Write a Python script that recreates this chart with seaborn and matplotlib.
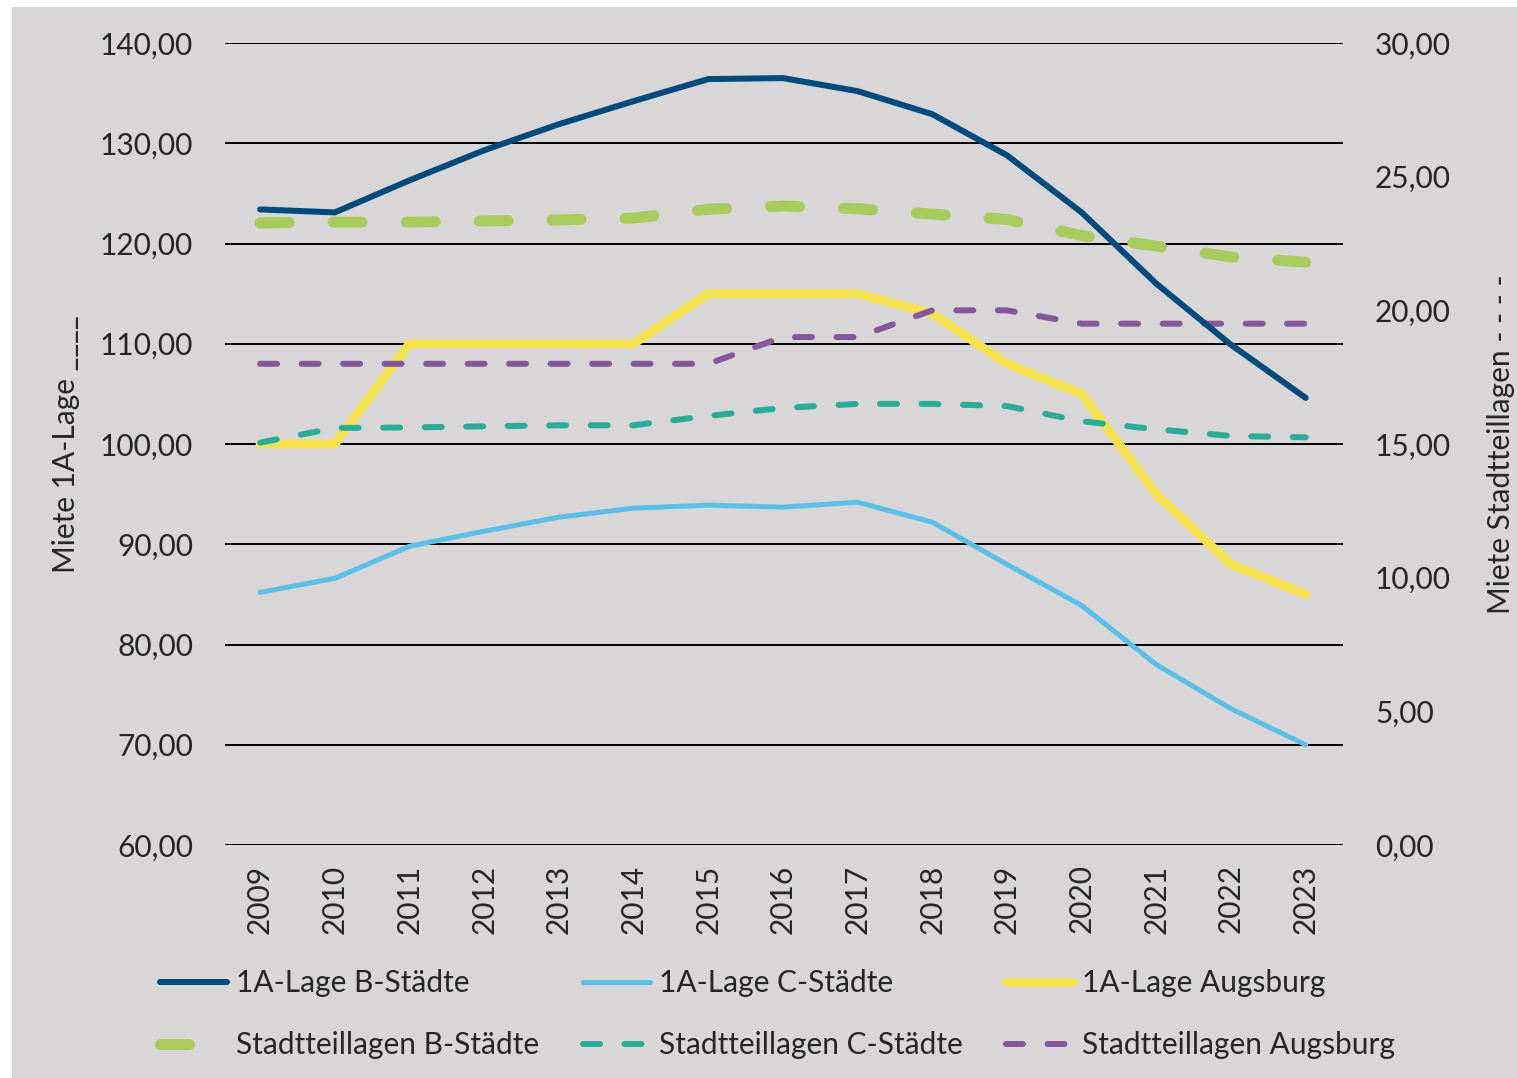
import matplotlib
matplotlib.use("Agg")
import matplotlib.pyplot as plt
import seaborn as sns
import pandas as pd
from matplotlib.patches import Rectangle
from matplotlib.ticker import FuncFormatter

years = list(range(2009, 2024))

lage_b = [123.4, 123.1, 126.3, 129.3, 131.9, 134.2, 136.4, 136.5, 135.2, 132.9, 128.8, 123.1, 116.0, 109.9, 104.6]
lage_c = [85.2, 86.6, 89.8, 91.3, 92.7, 93.6, 93.9, 93.7, 94.2, 92.2, 88.0, 83.9, 78.0, 73.6, 70.0]
lage_a = [100.0, 100.0, 110.0, 110.0, 110.0, 110.0, 115.0, 115.0, 115.0, 113.0, 108.0, 105.0, 95.0, 88.0, 85.0]

st_b = [23.27, 23.3, 23.3, 23.34, 23.38, 23.45, 23.78, 23.9, 23.8, 23.6, 23.4, 22.8, 22.4, 22.0, 21.8]
st_c = [15.05, 15.6, 15.62, 15.66, 15.7, 15.7, 16.05, 16.35, 16.5, 16.5, 16.42, 15.85, 15.55, 15.3, 15.25]
st_a = [18.0, 18.0, 18.0, 18.0, 18.0, 18.0, 18.0, 19.0, 19.0, 20.0, 20.0, 19.5, 19.5, 19.5, 19.5]

labels = ["1A-Lage B-Städte", "1A-Lage C-Städte", "1A-Lage Augsburg",
          "Stadtteillagen B-Städte", "Stadtteillagen C-Städte", "Stadtteillagen Augsburg"]
colors = ["#004a7c", "#5bbfe7", "#f5e24e", "#a9cb5d", "#2aac97", "#85579b"]

left_ticks = [60, 70, 80, 90, 100, 110, 120, 130, 140]
right_ticks = [0, 5, 10, 15, 20, 25, 30]

sns.set_style("white")
plt.rcParams['font.family'] = ['Lato', 'DejaVu Sans']
plt.rcParams['lines.scale_dashes'] = False

W, H = 1517, 1078
fig = plt.figure(figsize=(W / 100, H / 100), dpi=100, facecolor="white")
bg = "#d8d6d7"
fig.patches.append(Rectangle((12 / W, 0), 1 - 12 / W, 1 - 7 / H, transform=fig.transFigure,
                             facecolor=bg, edgecolor="none", zorder=-10))

ax = fig.add_axes([225 / W, 1 - 845 / H, (1343 - 225) / W, (845 - 43) / H])
ax.patch.set_visible(False)
ax2 = ax.twinx()
ax3 = ax.twinx()

df = pd.DataFrame({"year": years, "b": lage_b, "c": lage_c, "a": lage_a,
                   "sb": st_b, "sc": st_c, "sa": st_a})

fs = 21.5
px = 0.72  # points per pixel

sns.lineplot(data=df, x="year", y="c", ax=ax, color=colors[1], lw=5 * px,
             solid_capstyle="round", label=labels[1], legend=False)
sns.lineplot(data=df, x="year", y="a", ax=ax, color=colors[2], lw=9 * px,
             solid_capstyle="round", label=labels[2], legend=False)

sns.lineplot(data=df, x="year", y="sb", ax=ax2, color=colors[3], lw=11 * px,
             linestyle=(0, (29 * px, 44 * px)), dash_capstyle="round", label=labels[3], legend=False)
sns.lineplot(data=df, x="year", y="sc", ax=ax2, color=colors[4], lw=6 * px,
             linestyle=(0, (17 * px, 24.5 * px)), dash_capstyle="round", label=labels[4], legend=False)
sns.lineplot(data=df, x="year", y="sa", ax=ax2, color=colors[5], lw=6 * px,
             linestyle=(0, (17 * px, 24.5 * px)), dash_capstyle="round", label=labels[5], legend=False)

sns.lineplot(data=df, x="year", y="b", ax=ax3, color=colors[0], lw=6 * px,
             solid_capstyle="round", label=labels[0], legend=False)

fmt = FuncFormatter(lambda v, p: f"{v:.2f}".replace(".", ","))

ax.set_ylim(60, 140)
ax3.set_ylim(60, 140)
ax2.set_ylim(0, 30)
for a in (ax, ax2, ax3):
    a.set_xlim(2008.53, 2023.5)
    for s in a.spines.values():
        s.set_visible(False)

ax.set_yticks(left_ticks)
ax.yaxis.set_major_formatter(fmt)
ax2.set_yticks(right_ticks)
ax2.yaxis.set_major_formatter(fmt)
ax3.set_yticks([])
ax3.set_ylabel("")

ax.grid(axis="y", color="black", lw=1.4)
ax.grid(axis="x", visible=False)
ax.set_axisbelow(True)

ax.set_xticks(years)
ax.set_xticklabels([str(y) for y in years], rotation=90)
ax.tick_params(axis="x", length=0, pad=14, labelsize=fs)
ax.tick_params(axis="y", length=0, pad=23, labelsize=fs)
ax2.tick_params(axis="y", length=0, pad=23, labelsize=fs)

ax.set_xlabel("")
ax.set_ylabel("Miete 1A-Lage ____", fontsize=fs, labelpad=14)
ax2.set_ylabel("Miete Stadtteillagen - - - -", fontsize=fs, labelpad=26)

h1 = ax.get_lines()
h2 = ax2.get_lines()
h3 = ax3.get_lines()
hmap = {l.get_label(): l for l in list(h1) + list(h2) + list(h3)}
order = [labels[0], labels[3], labels[1], labels[4], labels[2], labels[5]]
fig.legend([hmap[l] for l in order], order, loc="upper left", ncol=3,
           bbox_to_anchor=(160 / W, 1 - 969 / H), frameon=False, fontsize=fs,
           handlelength=2.25, handletextpad=0.3, columnspacing=1.45, labelspacing=1.15,
           borderaxespad=0, borderpad=0)

fig.savefig("out.png", dpi=100, facecolor="white")
